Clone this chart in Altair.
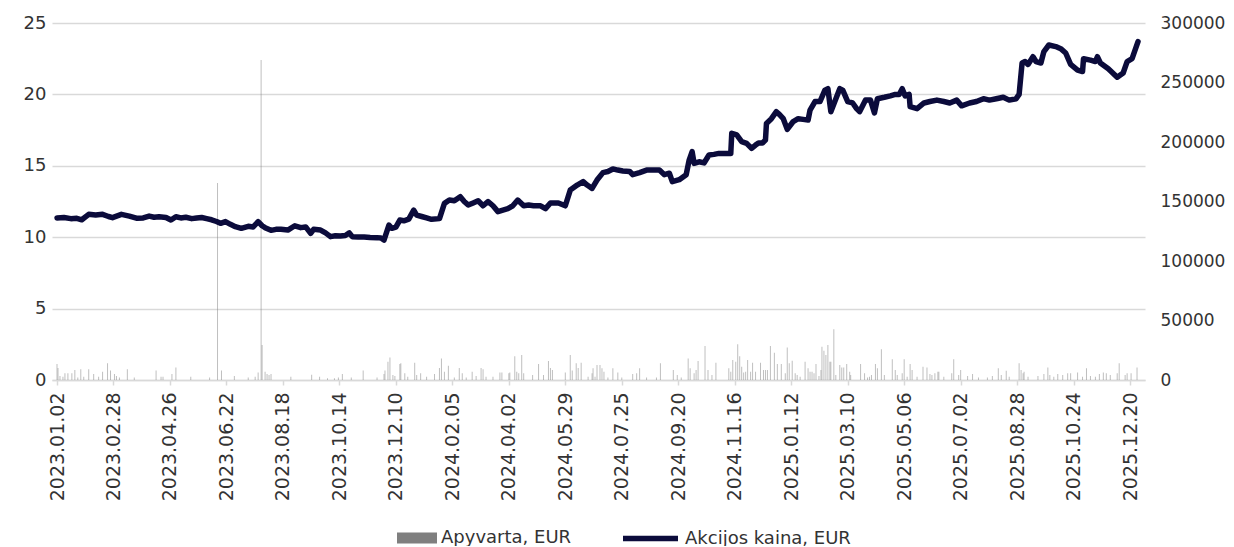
import altair as alt
import pandas as pd
from datetime import date, timedelta

START = date(2023, 1, 2)

# Share price (EUR): day offset from 2023-01-02 and value
price_days = [0, 7, 14, 20, 25, 32, 39, 46, 52, 56, 65, 73, 81, 87, 93, 98, 103, 110, 115, 120,
              125, 130, 136, 141, 146, 151, 156, 161, 165, 170, 175, 180, 186, 193, 198, 203, 207,
              210, 216, 221, 226, 233, 240, 246, 251, 256, 259, 266, 271, 276, 281, 286, 291, 295,
              298, 304, 310, 316, 323, 327, 330, 335, 338, 342, 346, 350, 355, 360, 363, 368, 373,
              378, 386, 391, 396, 401, 407, 411, 415, 420, 425, 430, 435, 440, 445, 450, 455, 460,
              465, 471, 476, 481, 488, 493, 498, 506, 513, 518, 525, 531, 535, 540, 545, 551, 556,
              561, 566, 571, 578, 581, 588, 595, 601, 608, 613, 618, 621, 628, 635, 638, 641, 643,
              648, 653, 658, 663, 668, 675, 680, 681, 686, 691, 696, 701, 705, 708, 712, 715, 716,
              721, 726, 729, 733, 737, 743, 748, 753, 758, 760, 765, 770, 775, 778, 781, 785, 790,
              793, 798, 803, 807, 810, 816, 821, 825, 828, 835, 841, 846, 850, 853, 856, 860, 861,
              868, 875, 881, 888, 895, 901, 908, 913, 921, 928, 935, 941, 948, 955, 961, 968, 971,
              974, 977, 980, 985, 988, 993, 996, 1001, 1008, 1013, 1018, 1023, 1030, 1035, 1036,
              1043, 1048, 1050, 1053, 1061, 1070, 1076, 1080, 1085, 1091]
price_vals = [11.35, 11.38, 11.30, 11.32, 11.22, 11.60, 11.55, 11.60, 11.45, 11.37, 11.60, 11.48,
              11.32, 11.35, 11.48, 11.40, 11.43, 11.38, 11.20, 11.43, 11.35, 11.40, 11.30, 11.35,
              11.38, 11.30, 11.22, 11.10, 10.97, 11.09, 10.90, 10.74, 10.62, 10.76, 10.72, 11.09,
              10.80, 10.67, 10.48, 10.55, 10.55, 10.50, 10.80, 10.67, 10.72, 10.27, 10.55, 10.50,
              10.30, 10.04, 10.10, 10.08, 10.12, 10.30, 10.04, 10.02, 10.02, 9.98, 9.97, 9.95,
              9.80, 10.85, 10.62, 10.70, 11.20, 11.15, 11.27, 11.90, 11.55, 11.45, 11.35, 11.25,
              11.30, 12.37, 12.60, 12.55, 12.84, 12.50, 12.25, 12.40, 12.55, 12.20, 12.50, 12.20,
              11.79, 11.90, 12.00, 12.20, 12.60, 12.20, 12.25, 12.20, 12.20, 12.00, 12.40, 12.40,
              12.20, 13.30, 13.65, 13.89, 13.65, 13.42, 14.00, 14.52, 14.60, 14.78, 14.70, 14.64,
              14.60, 14.38, 14.52, 14.70, 14.70, 14.70, 14.38, 14.48, 13.89, 14.03, 14.38, 15.40,
              15.99, 15.17, 15.28, 15.20, 15.76, 15.80, 15.87, 15.87, 15.87, 17.28, 17.16, 16.69,
              16.57, 16.22, 16.45, 16.60, 16.60, 16.80, 17.97, 18.30, 18.79, 18.60, 18.30, 17.55,
              18.10, 18.30, 18.25, 18.20, 18.90, 19.50, 19.50, 20.30, 20.40, 18.79, 19.50, 20.40,
              20.30, 19.50, 19.40, 19.00, 18.79, 19.60, 19.60, 18.70, 19.70, 19.80, 19.90, 20.00,
              20.00, 20.40, 19.90, 20.00, 19.14, 19.00, 19.40, 19.50, 19.60, 19.50, 19.40, 19.60,
              19.20, 19.40, 19.50, 19.70, 19.60, 19.70, 19.80, 19.60, 19.70, 20.00, 22.20, 22.30,
              22.10, 22.64, 22.30, 22.20, 23.00, 23.46, 23.35, 23.20, 22.90, 22.10, 21.70, 21.60,
              22.50, 22.40, 22.30, 22.64, 22.20, 21.80, 21.20, 21.50, 22.30, 22.50, 23.70]

# Daily turnover (EUR): day offset from 2023-01-02 and value
turn_days = [0, 1, 3, 6, 8, 11, 15, 18, 21, 24, 27, 32, 37, 42, 46, 51, 54, 58, 60, 63, 71, 78,
             100, 105, 107, 116, 120, 135, 154, 162, 166, 179, 193, 200, 203, 206, 207, 210, 212,
             214, 216, 236, 257, 265, 273, 280, 284, 288, 297, 309, 323, 330, 331, 334, 336, 339,
             341, 346, 347, 351, 354, 361, 363, 367, 373, 381, 386, 388, 391, 395, 401, 406, 409,
             413, 419, 423, 428, 430, 433, 440, 447, 449, 456, 457, 462, 464, 466, 469, 471, 480,
             486, 491, 496, 498, 500, 513, 518, 520, 524, 526, 529, 536, 540, 541, 543, 545, 548,
             550, 552, 556, 561, 566, 570, 581, 585, 588, 595, 605, 609, 622, 626, 630, 637, 639,
             643, 645, 647, 654, 657, 661, 665, 678, 680, 682, 685, 687, 689, 691, 693, 695, 697,
             700, 702, 705, 710, 713, 715, 717, 720, 724, 727, 731, 735, 737, 739, 742, 745, 747,
             750, 755, 758, 760, 762, 764, 766, 769, 771, 772, 774, 776, 778, 780, 781, 784, 786,
             790, 792, 794, 797, 800, 801, 811, 815, 818, 820, 822, 826, 828, 832, 835, 843, 846,
             848, 853, 855, 858, 861, 863, 868, 874, 878, 881, 883, 886, 889, 890, 895, 903, 905,
             910, 912, 919, 924, 930, 939, 944, 950, 953, 958, 961, 971, 973, 975, 976, 980, 990,
             996, 1000, 1002, 1006, 1010, 1015, 1020, 1023, 1030, 1035, 1039, 1043, 1048, 1052,
             1056, 1059, 1063, 1070, 1072, 1078, 1080, 1084, 1090]
turn_vals = [13400, 10000, 3400, 2800, 5600, 5600, 5600, 8400, 2000, 9000, 2800, 9000, 5000, 2800,
             7000, 14000, 8000, 5000, 3400, 2200, 9000, 2200, 8000, 2800, 2800, 5000, 10600, 2800,
             2200, 165500, 8000, 3400, 2200, 2800, 6200, 269000, 29400, 7000, 5000, 4200, 5000,
             2800, 4500, 2800, 1400, 1400, 2200, 5000, 2200, 8000, 2200, 5000, 8000, 15400, 19000,
             4200, 3400, 13400, 14000, 5600, 2800, 14600, 4200, 5600, 2800, 5000, 10000, 18000,
             7000, 12000, 2200, 10000, 5600, 2200, 7000, 3400, 10000, 9000, 2800, 2800, 6200, 6200,
             5600, 6200, 20000, 7000, 5600, 21000, 5600, 4200, 13400, 4200, 16000, 10000, 8400,
             6200, 21000, 8000, 14000, 10000, 14600, 2800, 5600, 9800, 2800, 12600, 12600, 9800,
             7000, 2200, 9800, 6200, 2200, 5000, 5600, 9800, 2200, 2200, 14000, 8400, 4200, 2200,
             18000, 9800, 5600, 8400, 16000, 28600, 8400, 4200, 14600, 9800, 7000, 16800, 15400,
             30000, 20000, 11200, 6200, 7000, 16800, 7000, 14600, 7000, 14600, 8400, 8400, 8400,
             28600, 23000, 13400, 13400, 5600, 27400, 14000, 16200, 5600, 4200, 2800, 15400, 9800,
             7000, 7000, 5600, 13400, 3400, 8400, 28000, 24600, 21000, 29400, 15400, 15400, 42600,
             4200, 12600, 10600, 10600, 13400, 7000, 4200, 13400, 5600, 2200, 2800, 4200, 13400,
             9800, 25800, 4200, 17400, 8400, 4200, 5600, 17400, 2800, 13400, 8400, 2800, 11200,
             10600, 5000, 4200, 5600, 7000, 7000, 2800, 5600, 17400, 4200, 8400, 3400, 5000, 2200,
             2200, 3400, 9800, 4200, 7800, 2800, 14000, 8400, 5600, 7000, 2800, 3400, 5000, 10600,
             4200, 2800, 5000, 4200, 5600, 5600, 6200, 2800, 9800, 3400, 2800, 5000, 6200, 5600,
             4200, 5600, 14000, 4200, 5600, 5600, 10600]

tick_dates = ["2023-01-02", "2023-02-28", "2023-04-26", "2023-06-22", "2023-08-18", "2023-10-14",
              "2023-12-10", "2024-02-05", "2024-04-02", "2024-05-29", "2024-07-25", "2024-09-20",
              "2024-11-16", "2025-01-12", "2025-03-10", "2025-05-06", "2025-07-02", "2025-08-28",
              "2025-10-24", "2025-12-20"]
left_ticks = [0, 5, 10, 15, 20, 25]
right_ticks = [0, 50000, 100000, 150000, 200000, 250000, 300000]

PRICE_NAME = "Akcijos kaina, EUR"
TURN_NAME = "Apyvarta, EUR"
FONT = "DejaVu Sans"
TXT = "#333333"
FS = 18


def to_date(d):
    return (START + timedelta(days=d)).isoformat()


def dt(s):
    y, m, d = (int(p) for p in s.split("-"))
    return alt.DateTime(year=y, month=m, date=d, utc=True)


price_df = pd.DataFrame({"date": [to_date(d) for d in price_days], "price": price_vals,
                         "series": PRICE_NAME})
turn_df = pd.DataFrame({"date": [to_date(d) for d in turn_days], "turnover": turn_vals,
                        "series": TURN_NAME})

x_enc = alt.X(
    "date:T",
    scale=alt.Scale(type="utc", domain=[dt("2023-01-02"), dt("2025-12-30")], nice=False),
    axis=alt.Axis(values=[dt(s) for s in tick_dates],
                  labelExpr="utcFormat(datum.value, '%Y.%m.%d')",
                  labelAngle=-90, labelAlign="right", labelBaseline="middle", labelPadding=7,
                  tickSize=5, tickColor="#d9d9d9", tickWidth=1.5, domainColor="#d9d9d9",
                  domainWidth=1.5, grid=False, title=None, labelOverlap=False,
                  labelFontSize=19, labelFont=FONT, labelColor=TXT),
)

bars = alt.Chart(turn_df).mark_bar(width=1, opacity=0.5).encode(
    x=x_enc,
    y=alt.Y("turnover:Q",
            scale=alt.Scale(domain=[0, 300000], nice=False),
            axis=alt.Axis(orient="right", values=right_ticks, format="d", grid=False,
                          domain=False, ticks=False, labelPadding=15, title=None,
                          labelFontSize=17, labelFont=FONT, labelColor=TXT)),
    color=alt.Color("series:N",
                    scale=alt.Scale(domain=[TURN_NAME], range=["#7f7f7f"]),
                    legend=alt.Legend(orient="none", legendX=345, legendY=495, title=None,
                                      symbolType="M-1,-0.28L1,-0.28L1,0.28L-1,0.28Z",
                                      symbolSize=1600, symbolOpacity=1, symbolStrokeWidth=0,
                                      labelFontSize=FS, labelFont=FONT, labelColor=TXT,
                                      labelOffset=4, labelLimit=300, padding=0)),
)

line = alt.Chart(price_df).mark_line(strokeWidth=5.5, strokeJoin="round", strokeCap="round").encode(
    x=x_enc,
    y=alt.Y("price:Q",
            scale=alt.Scale(domain=[0, 25], nice=False),
            axis=alt.Axis(orient="left", values=left_ticks, grid=True, gridColor="#d9d9d9",
                          gridWidth=1.5, domain=False, ticks=False, labelPadding=6, title=None,
                          labelFontSize=FS, labelFont=FONT, labelColor=TXT)),
    stroke=alt.Stroke("series:N",
                      scale=alt.Scale(domain=[PRICE_NAME], range=["#0b0b3b"]),
                      legend=alt.Legend(orient="none", legendX=568, legendY=485, title=None,
                                        symbolType="stroke", symbolSize=3025,
                                        symbolStrokeWidth=5.5,
                                        labelFontSize=FS, labelFont=FONT, labelColor=TXT,
                                        labelOffset=4, labelLimit=300, padding=0)),
)

chart = alt.layer(bars, line).resolve_scale(y="independent", color="independent").properties(
    width=1093,
    height=357,
    autosize=alt.AutoSizeParams(type="none"),
    padding={"left": 44, "top": 15, "right": 81, "bottom": 166},
).configure(font=FONT).configure_view(stroke=None)

chart.save("out.html", embed_options={"renderer": "svg", "actions": False})
